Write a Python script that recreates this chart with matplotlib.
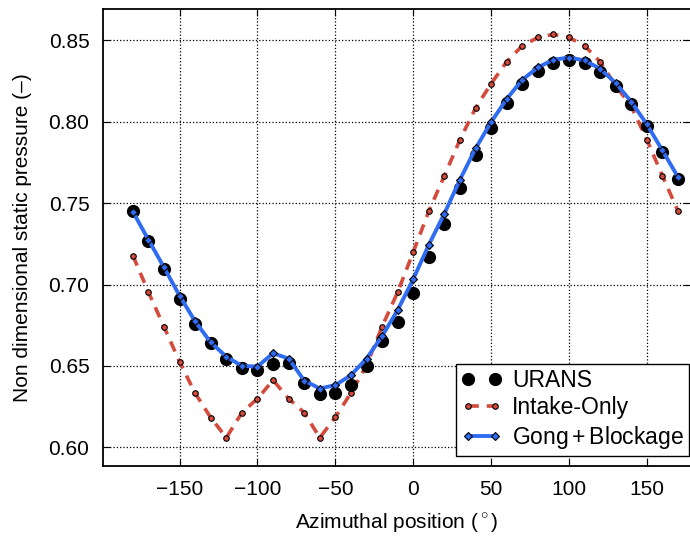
import matplotlib
matplotlib.use("Agg")
import matplotlib.pyplot as plt

plt.rcParams['font.family'] = ['Liberation Sans', 'DejaVu Sans']
plt.rcParams['mathtext.fontset'] = 'custom'
plt.rcParams['mathtext.rm'] = 'Liberation Sans'

# azimuthal positions (deg)
angle = [-180, -170, -160, -150, -140, -130, -120, -110, -100, -90,
         -80, -70, -60, -50, -40, -30, -20, -10, 0, 10,
         20, 30, 40, 50, 60, 70, 80, 90, 100, 110,
         120, 130, 140, 150, 160, 170]

urans = [0.745, 0.7267, 0.7095, 0.6914, 0.6758, 0.6640, 0.6543, 0.6488, 0.6476, 0.6511,
         0.6517, 0.6394, 0.6328, 0.6332, 0.6383, 0.6502, 0.6653, 0.6768, 0.6951, 0.7172,
         0.7373, 0.7593, 0.7797, 0.7963, 0.8115, 0.8234, 0.8314, 0.8361, 0.8377, 0.8361,
         0.8308, 0.8217, 0.8111, 0.7976, 0.7812, 0.7650]

intake_only = [0.7178, 0.6953, 0.6740, 0.6525, 0.6332, 0.6182, 0.6059, 0.6213, 0.6299, 0.6412,
               0.6299, 0.6213, 0.6059, 0.6185, 0.6334, 0.6502, 0.6742, 0.6953, 0.7199, 0.7451,
               0.7668, 0.7890, 0.8084, 0.8234, 0.8369, 0.8467, 0.8518, 0.8537, 0.8518, 0.8467,
               0.8369, 0.8222, 0.8094, 0.7890, 0.7668, 0.7451]

gong_blockage = [0.7447, 0.7275, 0.7105, 0.6931, 0.6773, 0.6644, 0.6557, 0.6500, 0.6496, 0.6578,
                 0.6545, 0.6410, 0.6361, 0.6382, 0.6443, 0.6545, 0.6683, 0.6843, 0.7033, 0.7244,
                 0.7436, 0.7644, 0.7836, 0.7998, 0.8140, 0.8258, 0.8334, 0.8381, 0.8395, 0.8377,
                 0.8326, 0.8238, 0.8123, 0.7984, 0.7824, 0.7660]

xticks = [-150, -100, -50, 0, 50, 100, 150]
yticks = [0.60, 0.65, 0.70, 0.75, 0.80, 0.85]

fig = plt.figure(figsize=(6.9, 5.36), dpi=100)
ax = fig.add_axes([0.1497, 0.1306, 0.8503, 0.8526])

ax.plot(angle, urans, 'o', color='black', markersize=8.5, label='URANS', zorder=3)
ax.plot(angle, intake_only, '--', color='#d44a3c', lw=2.6, dashes=(3, 2.2),
        marker='o', markersize=4, markerfacecolor='#d44a3c', markeredgecolor='black',
        markeredgewidth=0.8, label='Intake-Only', zorder=2)
ax.plot(angle, gong_blockage, '-', color='#2f6cf2', lw=2.8,
        marker='D', markersize=4, markerfacecolor='#2f6cf2', markeredgecolor='black',
        markeredgewidth=0.8, label='Gong$\\,$+$\\,$Blockage', zorder=4)

ax.set_xlim(-199, 177.7)
ax.set_ylim(0.5885, 0.8693)
ax.set_xticks(xticks)
ax.set_yticks(yticks)
ax.set_yticklabels(['%.2f' % v for v in yticks])
ax.tick_params(direction='in', top=True, right=True, labelsize=15, length=5, pad=10)
ax.grid(True, linestyle=':', color='black', linewidth=0.9)
ax.spines['right'].set_visible(False)
for s in ['left', 'bottom', 'top']:
    ax.spines[s].set_linewidth(1.3)

ax.set_xlabel('Azimuthal position ($^\\circ$)', fontsize=15, labelpad=9)
ax.set_ylabel('Non dimensional static pressure (\u2013)', fontsize=15, labelpad=12)

leg = ax.legend(loc='lower right', bbox_to_anchor=(0.9986, 0.1493),
                bbox_transform=fig.transFigure, borderaxespad=0,
                numpoints=2, fontsize=16.5, fancybox=False,
                edgecolor='black', framealpha=1,
                handlelength=1.78, handletextpad=0.45, labelspacing=0.2, borderpad=0.22)
leg.get_frame().set_linewidth(1.0)

fig.savefig('out.png', dpi=100)
